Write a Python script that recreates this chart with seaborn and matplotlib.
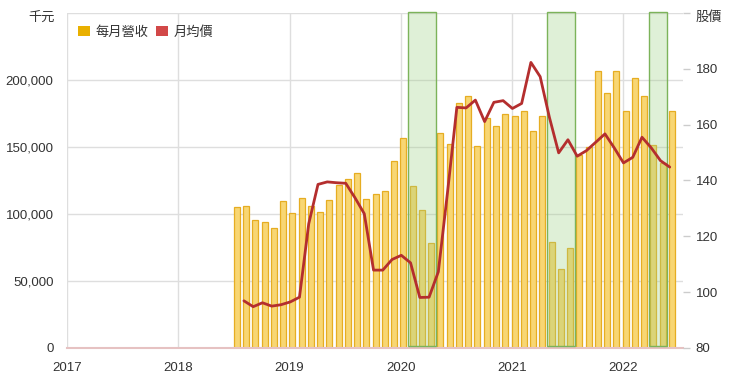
import numpy as np
import pandas as pd
import matplotlib
matplotlib.use("Agg")
import matplotlib.pyplot as plt
import matplotlib.transforms as mtransforms
from matplotlib.patches import Patch, Rectangle
import seaborn as sns

# ---------------- data ----------------
rev_start, rev_end = "2018-07", "2022-06"
revenue = [105000, 106000, 95300, 94100, 89600, 110000,
           100500, 112000, 106300, 101300, 110300, 122000,
           126200, 130700, 111500, 115000, 117000, 139700,
           157000, 121000, 103000, 78100, 160400, 152400,
           182600, 188100, 150700, 171400, 165700, 175000,
           173200, 177200, 161700, 173200, 79100, 58900,
           74600, 143700, 150200, 206800, 190600, 206600,
           176600, 201300, 188100, 151700, 137700, 177200]

price_start, price_end = "2018-08", "2022-06"
price = [96.9, 94.8, 96.2, 95.0, 95.5,
         96.5, 98.2, 124.5, 138.6, 139.5, 139.2, 139.0, 133.8, 128.1, 107.9, 107.9, 111.7,
         113.2, 110.5, 98.1, 98.2, 107.3, 136.0, 166.2, 166.0, 168.8, 161.1, 168.0, 168.6,
         165.8, 167.6, 182.3, 177.2, 162.6, 149.9, 154.6, 148.7, 150.7, 153.7, 156.7, 151.7,
         146.3, 148.3, 155.5, 151.7, 147.1, 144.8]

highlights = [("2020-02", "2020-04"), ("2021-05", "2021-07"), ("2022-04", "2022-05")]
years = [2017, 2018, 2019, 2020, 2021, 2022]
left_ticks = [0, 50000, 100000, 150000, 200000, 250000]
left_labels = ["0", "50,000", "100,000", "150,000", "200,000", ""]
right_ticks = [80, 100, 120, 140, 160, 180, 200]
right_labels = ["80", "100", "120", "140", "160", "180", ""]
left_unit = "千元"
right_unit = "股價"
legend_labels = ["每月營收", "月均價"]

# ---------------- helpers ----------------
BASE = 2017
def midx(p):
    p = pd.Period(p, freq="M")
    return (p.year - BASE) * 12 + p.month - 1

BAR_OFF = 0.3
LINE_OFF = 0.07
rev_idx = np.array([midx(p) for p in pd.period_range(rev_start, rev_end, freq="M")])
price_idx = np.array([midx(p) for p in pd.period_range(price_start, price_end, freq="M")])

df_rev = pd.DataFrame({"x": rev_idx + BAR_OFF, "rev": revenue})
df_price = pd.DataFrame({"x": price_idx + LINE_OFF, "price": price})

# ---------------- style ----------------
sns.set_theme(style="white")
plt.rcParams["font.family"] = ["Liberation Sans", "Noto Sans CJK TC", "DejaVu Sans"]

BAR_FILL = "#f8d673"
BAR_EDGE = "#e6ad22"
LEG_YELLOW = "#e9b000"
LEG_RED = "#d24848"
LINE_RED = "#b42e2e"
TXT = "#333333"

fig = plt.figure(figsize=(7.4, 3.78), dpi=100)
ax = fig.add_axes([67.4 / 740, 30 / 378, (683 - 67.4) / 740, 335 / 378])

sns.barplot(data=df_rev, x="x", y="rev", native_scale=True, width=0.65,
            color=BAR_FILL, edgecolor=BAR_EDGE, linewidth=0.9, saturation=1,
            ax=ax, zorder=2)

ax.set_xlim(0, 66.5)
ax.set_ylim(0, 250000)
ax.set_xticks([(y - BASE) * 12 for y in years])
ax.set_xticklabels([str(y) for y in years])
ax.set_yticks(left_ticks)
ax.set_yticklabels(left_labels)
ax.set_xlabel("")
ax.set_ylabel("")
ax.grid(True, color="#dedede", linewidth=1)
ax.set_axisbelow(True)
ax.tick_params(axis="x", length=0, pad=10, labelsize=9.5, labelcolor=TXT)
ax.tick_params(axis="y", length=0, pad=10, labelsize=9.5, labelcolor=TXT)
for s in ["top", "right", "left"]:
    ax.spines[s].set_visible(False)
ax.spines["bottom"].set_color("#e6c2c2")
ax.spines["bottom"].set_linewidth(1.5)

# highlight boxes
trans = mtransforms.blended_transform_factory(ax.transData, ax.transAxes)
for a, b in highlights:
    x0 = midx(a) + BAR_OFF - 0.5
    x1 = midx(b) + BAR_OFF + 0.5
    ax.add_patch(Rectangle((x0, 0.006), x1 - x0, 0.997, transform=trans,
                           facecolor=(0.62, 0.82, 0.52, 0.32), edgecolor="#7cb35a",
                           linewidth=1, zorder=3, clip_on=False))

# price line on right axis
ax2 = ax.twinx()
sns.lineplot(data=df_price, x="x", y="price", ax=ax2, color=LINE_RED, linewidth=2)
ax2.set_ylim(80, 200)
ax2.set_xlim(0, 66.5)
ax2.set_yticks(right_ticks)
ax2.set_yticklabels(right_labels)
ax2.set_ylabel("")
ax2.set_xlabel("")
ax2.grid(False)
ax2.tick_params(axis="y", length=5, width=1, color="#cccccc", pad=4, labelsize=9.5, labelcolor=TXT)
for s in ax2.spines.values():
    s.set_visible(False)

fig.text(55 / 740, 1 - 18 / 378, left_unit, ha="right", va="center", fontsize=9.5, color=TXT)
fig.text(696 / 740, 1 - 18 / 378, right_unit, ha="left", va="center", fontsize=9.5, color=TXT)

handles = [Patch(facecolor=LEG_YELLOW, edgecolor="none"), Patch(facecolor=LEG_RED, edgecolor="none")]
ax2.legend(handles, legend_labels, loc="upper left", bbox_to_anchor=(-0.002, 0.998),
           ncol=2, frameon=False, handlelength=0.9, handleheight=0.9,
           handletextpad=0.4, columnspacing=0.6, fontsize=9.5, labelcolor=TXT)

fig.savefig("out.png", dpi=100)
